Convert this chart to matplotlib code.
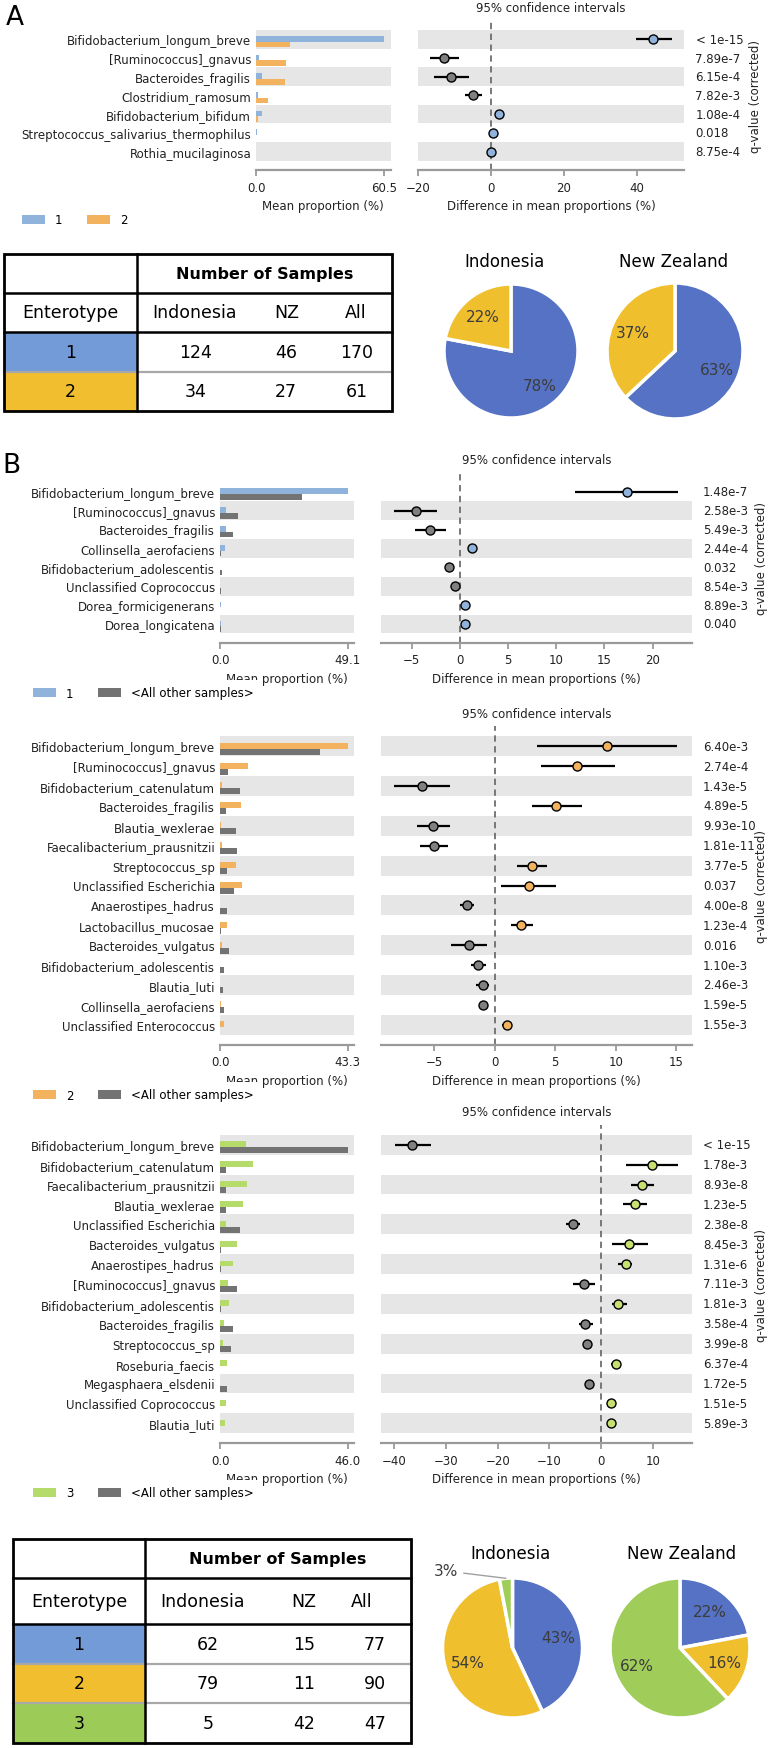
import numpy as np
import matplotlib.pyplot as plt
import matplotlib.transforms as mtransforms
from matplotlib.patches import Patch, Rectangle

plt.rcParams['font.family'] = ['DejaVu Sans']

# ---------------- data ----------------
# panel A : enterotype 1 vs 2
a_names = ["Bifidobacterium_longum_breve", "[Ruminococcus]_gnavus", "Bacteroides_fragilis",
           "Clostridium_ramosum", "Bifidobacterium_bifidum", "Streptococcus_salivarius_thermophilus",
           "Rothia_mucilaginosa"]
a_prop1 = [60.5, 1.5, 3.0, 0.8, 3.0, 0.5, 0.1]
a_prop2 = [15.9, 14.2, 13.8, 5.6, 0.8, 0.1, 0.1]
a_diff = [44.6, -12.9, -10.9, -4.8, 2.2, 0.5, 0.1]
a_lo = [39.7, -16.6, -15.5, -7.1, 1.6, 0.2, -0.1]
a_hi = [49.7, -8.8, -6.1, -2.3, 2.8, 0.8, 0.3]
a_q = ["< 1e-15", "7.89e-7", "6.15e-4", "7.82e-3", "1.08e-4", "0.018", "8.75e-4"]

# panel B1 : enterotype 1 vs others
b1_names = ["Bifidobacterium_longum_breve", "[Ruminococcus]_gnavus", "Bacteroides_fragilis",
            "Collinsella_aerofaciens", "Bifidobacterium_adolescentis", "Unclassified Coprococcus",
            "Dorea_formicigenerans", "Dorea_longicatena"]
b1_prop1 = [49.1, 2.5, 2.3, 1.9, 0.1, 0.1, 0.4, 0.5]
b1_prop2 = [31.4, 7.0, 5.1, 0.3, 0.9, 0.5, 0.1, 0.2]
b1_diff = [17.4, -4.6, -3.1, 1.3, -1.1, -0.55, 0.5, 0.5]
b1_lo = [11.9, -6.9, -4.7, 1.0, -1.5, -0.8, 0.3, 0.3]
b1_hi = [22.6, -2.4, -1.5, 1.6, -0.6, -0.3, 0.7, 0.7]
b1_q = ["1.48e-7", "2.58e-3", "5.49e-3", "2.44e-4", "0.032", "8.54e-3", "8.89e-3", "0.040"]

# panel B2 : enterotype 2 vs others
b2_names = ["Bifidobacterium_longum_breve", "[Ruminococcus]_gnavus", "Bifidobacterium_catenulatum",
            "Bacteroides_fragilis", "Blautia_wexlerae", "Faecalibacterium_prausnitzii",
            "Streptococcus_sp", "Unclassified Escherichia", "Anaerostipes_hadrus",
            "Lactobacillus_mucosae", "Bacteroides_vulgatus", "Bifidobacterium_adolescentis",
            "Blautia_luti", "Collinsella_aerofaciens", "Unclassified Enterococcus"]
b2_prop1 = [43.3, 9.4, 0.8, 7.0, 0.5, 0.6, 5.4, 7.6, 0.1, 2.5, 0.6, 0.1, 0.1, 0.5, 1.2]
b2_prop2 = [33.9, 2.7, 6.9, 2.0, 5.5, 5.7, 2.3, 4.9, 2.3, 0.3, 2.9, 1.3, 1.0, 1.3, 0.1]
b2_diff = [9.3, 6.8, -6.0, 5.1, -5.1, -5.0, 3.1, 2.8, -2.3, 2.2, -2.1, -1.35, -1.0, -1.0, 1.0]
b2_lo = [3.5, 3.8, -8.3, 3.1, -6.4, -6.2, 1.8, 0.5, -2.9, 1.35, -3.6, -2.0, -1.55, -1.3, 0.6]
b2_hi = [15.1, 9.9, -3.7, 7.2, -3.7, -3.9, 4.3, 5.1, -1.7, 3.2, -0.6, -0.7, -0.5, -0.7, 1.4]
b2_q = ["6.40e-3", "2.74e-4", "1.43e-5", "4.89e-5", "9.93e-10", "1.81e-11", "3.77e-5", "0.037",
        "4.00e-8", "1.23e-4", "0.016", "1.10e-3", "2.46e-3", "1.59e-5", "1.55e-3"]

# panel B3 : enterotype 3 vs others
b3_names = ["Bifidobacterium_longum_breve", "Bifidobacterium_catenulatum", "Faecalibacterium_prausnitzii",
            "Blautia_wexlerae", "Unclassified Escherichia", "Bacteroides_vulgatus", "Anaerostipes_hadrus",
            "[Ruminococcus]_gnavus", "Bifidobacterium_adolescentis", "Bacteroides_fragilis",
            "Streptococcus_sp", "Roseburia_faecis", "Megasphaera_elsdenii", "Unclassified Coprococcus",
            "Blautia_luti"]
b3_prop1 = [9.4, 11.8, 9.8, 8.2, 2.0, 6.2, 4.8, 2.9, 3.2, 1.5, 1.0, 2.7, 0.1, 2.0, 1.8]
b3_prop2 = [46.0, 2.1, 2.0, 2.0, 7.3, 0.5, 0.3, 6.2, 0.3, 4.8, 4.1, 0.1, 2.5, 0.1, 0.1]
b3_diff = [-36.5, 9.7, 7.9, 6.5, -5.5, 5.4, 4.7, -3.3, 3.3, -3.1, -2.8, 2.8, -2.3, 1.9, 1.8]
b3_lo = [-39.8, 4.8, 5.7, 4.1, -6.9, 2.1, 3.3, -5.5, 2.0, -4.3, -3.2, 1.9, -2.7, 1.5, 1.4]
b3_hi = [-32.9, 14.8, 10.2, 8.8, -4.1, 9.0, 6.0, -1.3, 4.9, -1.6, -2.4, 3.5, -1.9, 2.3, 2.2]
b3_q = ["< 1e-15", "1.78e-3", "8.93e-8", "1.23e-5", "2.38e-8", "8.45e-3", "1.31e-6", "7.11e-3",
        "1.81e-3", "3.58e-4", "3.99e-8", "6.37e-4", "1.72e-5", "1.51e-5", "5.89e-3"]

# tables and pies
tab_cols = ["Indonesia", "NZ", "All"]
tabA_types = ["1", "2"]
tabA_counts = [[124, 46, 170], [34, 27, 61]]
tabB_types = ["1", "2", "3"]
tabB_counts = [[62, 15, 77], [79, 11, 90], [5, 42, 47]]
pieA_indo = [78, 22]
pieA_nz = [63, 37]
pieB_indo = [43, 54, 3]
pieB_nz = [22, 16, 62]

# colours
c_blue = '#8fb3db'
c_orange = '#f2b25e'
c_green = '#b5dc6a'
c_gray = '#737373'
c_band = '#e6e6e6'
pie_cols = ['#5572c4', '#f0bf2e', '#a0cd5a']
cell_cols = ['#729bd7', '#f0be2e', '#9dcb57']

W, H = 769, 1749
fig = plt.figure(figsize=(W / 100, H / 100), dpi=100)
FS = 8.5


def box(l, t, r, b):
    return [l / W, 1 - b / H, (r - l) / W, (b - t) / H]


def style_bottom(ax):
    for s in ['top', 'right', 'left']:
        ax.spines[s].set_visible(False)
    ax.spines['bottom'].set_color('#9a9a9a')
    ax.spines['bottom'].set_linewidth(1.6)
    ax.tick_params(axis='x', colors='#9a9a9a', width=1.3, length=4, labelsize=FS, labelcolor='#222222')
    ax.tick_params(axis='y', length=0, labelsize=FS, labelcolor='#222222')


def forest(names, p1, p2, diff, lo, hi, qv, c1, mk1, top, bottom, barlr, difflr,
           xlim, xticks, pmax, qx, qlx, leg_xy, leg_labels, c2=c_gray):
    n = len(names)
    y = np.arange(n)
    axb = fig.add_axes(box(barlr[0], top, barlr[1], bottom))
    axd = fig.add_axes(box(difflr[0], top, difflr[1], bottom))
    for ax in (axb, axd):
        for i in range(n):
            if (n - 1 - i) % 2 == 0:
                ax.axhspan(i - 0.5, i + 0.5, color=c_band, lw=0, zorder=0)
        ax.set_ylim(n, -1)
        style_bottom(ax)
    axb.barh(y - 0.18, p1, height=0.3, align='edge', color=c1, zorder=2)
    axb.barh(y + 0.12, p2, height=0.3, align='edge', color=c2, zorder=2)
    axb.set_xlim(0, pmax * 1.05)
    axb.set_xticks([0, pmax])
    axb.set_xticklabels(["0.0", f"{pmax:.1f}"])
    axb.set_yticks(y)
    axb.set_yticklabels(names)
    axb.set_xlabel("Mean proportion (%)", fontsize=FS, color='#222222', labelpad=4)

    diff = np.array(diff)
    axd.axvline(0, color='#6e6e6e', lw=1.3, ls=(0, (3.5, 2.5)), zorder=1)
    axd.errorbar(diff, y, xerr=[diff - np.array(lo), np.array(hi) - diff], fmt='none',
                 ecolor='black', elinewidth=1.6, capsize=0, zorder=3)
    for i in range(n):
        axd.plot(diff[i], y[i], 'o', ms=6.5, mfc=mk1 if diff[i] > 0 else '#808080',
                 mec='black', mew=1.0, zorder=4)
    axd.set_xlim(*xlim)
    axd.set_xticks(xticks)
    axd.set_yticks([])
    axd.set_xlabel("Difference in mean proportions (%)", fontsize=FS, color='#222222', labelpad=4)

    fig.text((difflr[0] + difflr[1]) / 2 / W, 1 - (top - 13) / H, "95% confidence intervals",
             ha='center', va='center', fontsize=FS, color='#222222')
    tr = mtransforms.blended_transform_factory(fig.transFigure, axd.transData)
    for i in range(n):
        fig.text(qx / W, y[i], qv[i], transform=tr, ha='left', va='center', fontsize=FS, color='#222222')
    fig.text(qlx / W, 1 - (top + bottom) / 2 / H, "q-value (corrected)", rotation=90,
             ha='center', va='center', fontsize=FS, color='#222222')
    # white legend box that partly hides the x label, like the original
    fig.legend(handles=[Patch(facecolor=c1, edgecolor='none'), Patch(facecolor=c2, edgecolor='none')],
               labels=leg_labels, loc='center left', bbox_to_anchor=(leg_xy[0] / W, 1 - leg_xy[1] / H),
               ncol=2, frameon=True, facecolor='white', edgecolor='none', framealpha=1, fancybox=False,
               fontsize=FS, handlelength=1.95, handleheight=0.7,
               handletextpad=0.85, columnspacing=2.1, borderpad=0.55, borderaxespad=0)


forest(a_names, a_prop1, a_prop2, a_diff, a_lo, a_hi, a_q, c_blue, c_blue,
       21.6, 171.2, (256, 390.6), (418, 684), (-20, 53), [-20, 0, 20, 40], 60.5,
       695.5, 755, (15.5, 221), ["1", "2"], c2=c_orange)
forest(b1_names, b1_prop1, b1_prop2, b1_diff, b1_lo, b1_hi, b1_q, c_blue, c_blue,
       473.8, 643.9, (220, 354), (381, 692), (-8.2, 24.1), [-5, 0, 5, 10, 15, 20], 49.1,
       703, 762, (26.5, 694), ["1", "<All other samples>"])
forest(b2_names, b2_prop1, b2_prop2, b2_diff, b2_lo, b2_hi, b2_q, c_orange, c_orange,
       727.4, 1045.6, (220, 354), (381, 692), (-9.4, 16.3), [-5, 0, 5, 10, 15], 43.3,
       703, 762, (26.5, 1096), ["2", "<All other samples>"])
forest(b3_names, b3_prop1, b3_prop2, b3_diff, b3_lo, b3_hi, b3_q, c_green, '#c8e070',
       1125.8, 1444.2, (220, 354), (381, 692), (-42.5, 17.5), [-40, -30, -20, -10, 0, 10], 46.0,
       703, 762, (26.5, 1494), ["3", "<All other samples>"])

# ---------------- tables (overlay in pixel units) ----------------
ov = fig.add_axes([0, 0, 1, 1])
ov.set_xlim(0, W)
ov.set_ylim(H, 0)
ov.axis('off')

ov.text(15, 18, "A", fontsize=19, ha='center', va='center')
ov.text(11, 466, "B", fontsize=19, ha='center', va='center')


def draw_table(left, right, split, edges, col_x, num_x, types, counts):
    nrow = len(types)
    for k in range(nrow):
        ov.add_patch(Rectangle((left, edges[2 + k]), split - left, edges[3 + k] - edges[2 + k],
                               facecolor=cell_cols[k], edgecolor='none', zorder=1))
    for k in range(nrow - 1):
        ov.plot([left, right], [edges[3 + k]] * 2, color='#a8a8a8', lw=1.6, zorder=2)
    for yy in edges[1:3]:
        ov.plot([left, right], [yy, yy], color='black', lw=1.8, zorder=3)
    ov.plot([split, split], [edges[0], edges[-1]], color='black', lw=1.8, zorder=3)
    ov.add_patch(Rectangle((left, edges[0]), right - left, edges[-1] - edges[0],
                           facecolor='none', edgecolor='black', lw=2, zorder=4))
    ov.text((split + right) / 2, (edges[0] + edges[1]) / 2, "Number of Samples",
            fontsize=11.5, fontweight='bold', ha='center', va='center')
    ymid = (edges[1] + edges[2]) / 2
    ov.text((left + split) / 2, ymid, "Enterotype", fontsize=12.5, ha='center', va='center')
    for x, c in zip(col_x, tab_cols):
        ov.text(x, ymid, c, fontsize=12.5, ha='center', va='center')
    for k in range(nrow):
        ym = (edges[2 + k] + edges[3 + k]) / 2
        ov.text((left + split) / 2, ym, types[k], fontsize=12.5, ha='center', va='center')
        for x, v in zip(num_x, counts[k]):
            ov.text(x, ym, str(v), fontsize=12.5, ha='center', va='center')


draw_table(4, 392, 137, [255, 294, 333, 372.5, 411.5], [194, 287, 356], [196, 286, 357],
           tabA_types, tabA_counts)
draw_table(13, 411, 145, [1540, 1579, 1625, 1665, 1704, 1744], [202, 304, 362], [208, 304, 375],
           tabB_types, tabB_counts)


# ---------------- pies ----------------
def draw_pie(cx, cy, r, vals, title, tx, ty, small_label=False):
    pad = 1.08
    ax = fig.add_axes(box(cx - r * pad, cy - r * pad, cx + r * pad, cy + r * pad))
    wedges, _, _ = ax.pie(vals, colors=pie_cols[:len(vals)], startangle=90, counterclock=False,
                          autopct=lambda p: f'{p:.0f}%' if p >= 5 else '', pctdistance=0.67,
                          wedgeprops=dict(edgecolor='white', linewidth=2.5),
                          textprops=dict(fontsize=11, color='#3c3c3c'))
    ax.set_xlim(-pad, pad)
    ax.set_ylim(-pad, pad)
    ax.set_aspect('equal')
    ax.axis('off')
    ov.text(tx, ty, title, fontsize=12, ha='center', va='center')
    if small_label:
        for w, v in zip(wedges, vals):
            if v < 5:
                mid = np.deg2rad((w.theta1 + w.theta2) / 2)
                ax.annotate(f'{v}%', xy=(np.cos(mid), np.sin(mid)), xytext=(-0.95, 1.1),
                            ha='center', va='center', fontsize=11, color='#3c3c3c',
                            annotation_clip=False,
                            arrowprops=dict(arrowstyle='-', color='#a0a0a0', lw=1,
                                            shrinkA=2, shrinkB=0))


draw_pie(511, 352, 67, pieA_indo, "Indonesia", 504, 262)
draw_pie(675, 352, 68, pieA_nz, "New Zealand", 674, 262)
draw_pie(512.5, 1649, 70, pieB_indo, "Indonesia", 511, 1554, small_label=True)
draw_pie(680, 1649, 70, pieB_nz, "New Zealand", 682, 1554)

fig.savefig("out.png", dpi=100)
